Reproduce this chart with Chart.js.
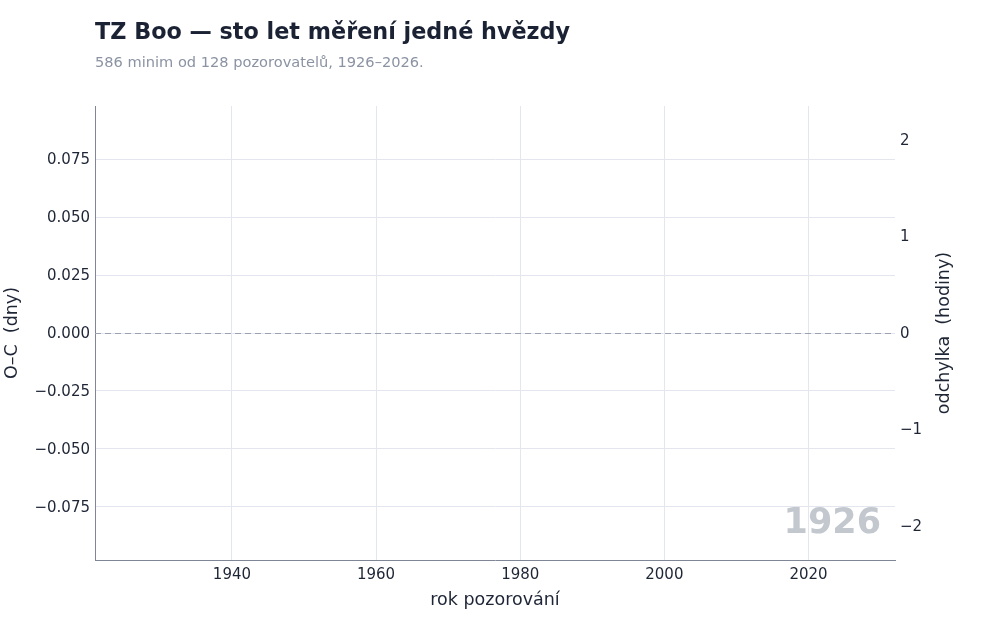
<!DOCTYPE html>
<html lang="cs">
<head>
<meta charset="utf-8">
<title>TZ Boo — sto let měření jedné hvězdy</title>
<script src="https://cdn.jsdelivr.net/npm/chart.js@4.4.1/dist/chart.umd.min.js"></script>
<style>
  html, body { margin: 0; padding: 0; background: #ffffff; }
  #wrap { position: relative; width: 1000px; height: 640px; overflow: hidden; }
  #chart { position: absolute; left: 0; top: 0; }
  .ttl { position: absolute; left: 95px; white-space: nowrap; font-family: "DejaVu Sans", sans-serif; }
  #title { top: 18px; font-size: 22.3px; line-height: 26px; font-weight: bold; color: #1a2233; }
  #subtitle { top: 53px; font-size: 14.6px; line-height: 17px; color: #8b93a3; }
</style>
</head>
<body>
<div id="wrap">
  <canvas id="chart" width="1000" height="640"></canvas>
  <div class="ttl" id="title">TZ Boo — sto let měření jedné hvězdy</div>
  <div class="ttl" id="subtitle">586 minim od 128 pozorovatelů, 1926–2026.</div>
</div>
<script>
// ---- data (snapshot frame of the animation: year 1926, no minima plotted yet) ----
const frameYear = 1926;
const minimaYears = [];          // years of observed minima shown in this frame
const minimaOC = [];             // O–C values (days) of those minima
const xTicks = [1940, 1960, 1980, 2000, 2020];
const yTicksDays = [-0.075, -0.05, -0.025, 0, 0.025, 0.05, 0.075];
const yTicksHours = [-2, -1, 0, 1, 2];
const xRange = [1921, 2032];
const yRangeDays = [-0.098, 0.098];
const rightTitle = 'odchylka  (hodiny)';

const FONT = '"DejaVu Sans", sans-serif';
const TXT = '#1e2535';
const GRID = '#e4e6ef';
const AXIS = '#7f8696';
const minus = s => String(s).replace('-', '\u2212');

const points = minimaYears.map((y, i) => ({ x: y, y: minimaOC[i] }));

const zeroLine = {
  id: 'zeroLine',
  beforeDatasetsDraw(chart) {
    const { ctx, chartArea, scales } = chart;
    const y = Math.round(scales.y.getPixelForValue(0)) + 0.5;
    ctx.save();
    ctx.strokeStyle = '#9ca3af';
    ctx.lineWidth = 1;
    ctx.setLineDash([6, 4]);
    ctx.beginPath();
    ctx.moveTo(chartArea.left, y);
    ctx.lineTo(chartArea.right, y);
    ctx.stroke();
    ctx.restore();
  }
};

const watermark = {
  id: 'watermark',
  beforeDatasetsDraw(chart) {
    const { ctx, chartArea } = chart;
    ctx.save();
    ctx.font = 'bold 35px ' + FONT;
    ctx.fillStyle = '#c3c8cf';
    ctx.textAlign = 'right';
    ctx.textBaseline = 'alphabetic';
    ctx.fillText(String(frameYear), chartArea.right - 14, chartArea.bottom - 27);
    ctx.restore();
  }
};

// right axis title reads bottom-to-top, like the left one
const rightAxisTitle = {
  id: 'rightAxisTitle',
  afterDraw(chart) {
    const { ctx, chartArea, scales } = chart;
    const s = scales.y2;
    ctx.save();
    ctx.font = '17.5px ' + FONT;
    ctx.fillStyle = TXT;
    ctx.textAlign = 'center';
    ctx.textBaseline = 'alphabetic';
    ctx.translate(s.right - 9, (chartArea.top + chartArea.bottom) / 2);
    ctx.rotate(-Math.PI / 2);
    ctx.fillText(rightTitle, 0, 0);
    ctx.restore();
  }
};

new Chart(document.getElementById('chart'), {
  type: 'scatter',
  data: {
    datasets: [{
      label: 'O–C',
      data: points,
      pointRadius: 3,
      backgroundColor: '#3b5bdb',
      borderColor: '#3b5bdb'
    }]
  },
  options: {
    responsive: false,
    animation: false,
    devicePixelRatio: 1,
    layout: { padding: { top: 106, left: 0, right: 42, bottom: 25 } },
    plugins: {
      legend: { display: false },
      tooltip: { enabled: false },
      title: { display: false }
    },
    scales: {
      x: {
        type: 'linear',
        position: 'bottom',
        min: xRange[0],
        max: xRange[1],
        afterBuildTicks: s => { s.ticks = xTicks.map(v => ({ value: v })); },
        afterFit: s => { s.height = 55; },
        grid: { color: GRID, drawTicks: false, lineWidth: 1 },
        border: { display: true, color: AXIS, width: 1 },
        ticks: { color: TXT, font: { family: FONT, size: 15 }, padding: 6, callback: v => String(v) },
        title: { display: true, text: 'rok pozorování', color: TXT, font: { family: FONT, size: 17.5 }, padding: { top: 4, bottom: 4 } }
      },
      y: {
        type: 'linear',
        position: 'left',
        min: yRangeDays[0],
        max: yRangeDays[1],
        afterBuildTicks: s => { s.ticks = yTicksDays.map(v => ({ value: v })); },
        afterFit: s => { s.width = 95; },
        grid: { color: GRID, drawTicks: false, lineWidth: 1 },
        border: { display: true, color: AXIS, width: 1 },
        ticks: { color: TXT, font: { family: FONT, size: 15 }, padding: 5, labelOffset: 1, callback: v => minus(Number(v).toFixed(3)) },
        title: { display: true, text: 'O–C  (dny)', color: TXT, font: { family: FONT, size: 17.5 }, padding: { top: 2, bottom: 4 } }
      },
      y2: {
        type: 'linear',
        position: 'right',
        min: yRangeDays[0] * 24,
        max: yRangeDays[1] * 24,
        afterBuildTicks: s => { s.ticks = yTicksHours.map(v => ({ value: v })); },
        afterFit: s => { s.width = 63; },
        grid: { display: false, drawTicks: false },
        border: { display: false },
        ticks: { color: TXT, font: { family: FONT, size: 15 }, padding: 5, labelOffset: 1, callback: v => minus(v) },
        title: { display: false }
      }
    }
  },
  plugins: [zeroLine, watermark, rightAxisTitle]
});
</script>
</body>
</html>
